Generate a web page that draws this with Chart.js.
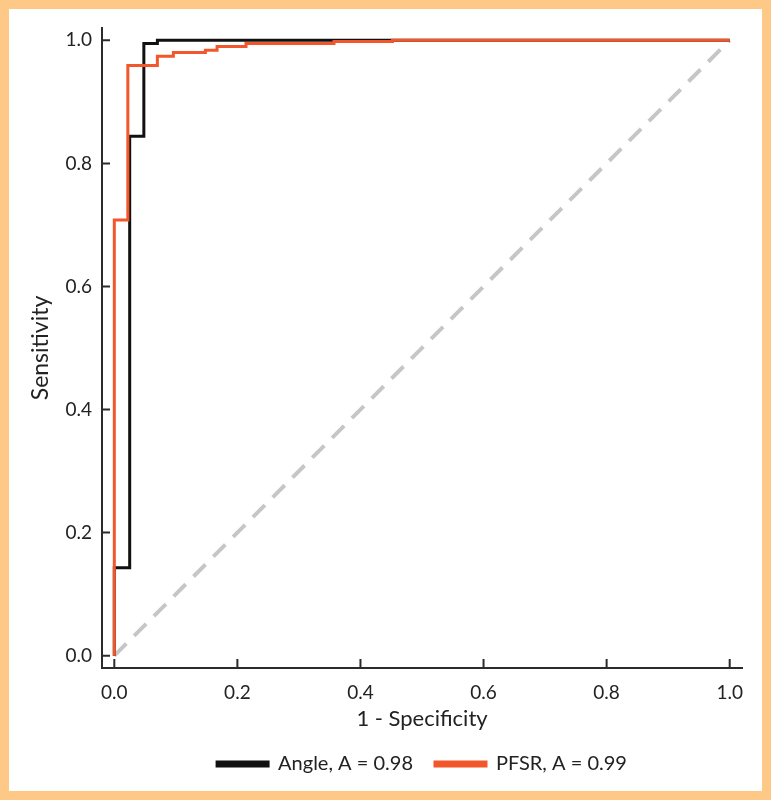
<!DOCTYPE html>
<html>
<head>
<meta charset="utf-8">
<script src="https://cdn.jsdelivr.net/npm/chart.js@4/dist/chart.umd.min.js"></script>
<style>
body{margin:0;background:#fec987;}
#wrap{position:absolute;left:9px;top:9px;width:753px;height:782px;background:#fff;}
</style>
</head>
<body>
<div id="wrap"><canvas id="chart"></canvas></div>
<script>
// ROC corner points (stepped: up first, then across)
const angleFpr=[0,0.025,0.048,0.070,1.0];
const angleTpr=[0,0.143,0.844,0.995,1.0];
const pfsrFpr=[0,0.022,0.070,0.096,0.148,0.167,0.214,0.357,0.452,1.0];
const pfsrTpr=[0,0.708,0.959,0.974,0.980,0.984,0.990,0.995,0.998,1.0];
const chanceLine=[0,1];
const tickVals=[0,0.2,0.4,0.6,0.8,1.0];

const pts=(xs,ys)=>xs.map((x,i)=>({x:x,y:ys[i]}));

const axisCol='#2b2b2b';
const fam='Lato, "Open Sans", sans-serif';
const tickFont={family:fam,size:19};

// short inward tick marks like the original, legend centred under the plot
const innerTicks={
id:'innerTicks',
beforeDraw(c){
const lg=c.legend;
if(lg){lg.left=c.chartArea.left;lg.right=c.chartArea.right;}
},
afterDraw(c){
const g=c.ctx,xs=c.scales.x,ys=c.scales.y;
g.save();
g.strokeStyle=axisCol;
g.lineWidth=2;
g.beginPath();
tickVals.forEach(v=>{
const px=xs.getPixelForValue(v);
g.moveTo(px,xs.top);g.lineTo(px,xs.top-9);
const py=ys.getPixelForValue(v);
g.moveTo(ys.right,py);g.lineTo(ys.right+8,py);
});
g.stroke();
g.restore();
}
};

const ctx=document.getElementById('chart');
new Chart(ctx,{
type:'line',
data:{datasets:[
{label:'Angle, A = 0.98',data:pts(angleFpr,angleTpr),borderColor:'#111',backgroundColor:'#111',borderWidth:3,stepped:'after',pointRadius:0,order:2},
{label:'PFSR, A = 0.99',data:pts(pfsrFpr,pfsrTpr),borderColor:'#f2572b',backgroundColor:'#f2572b',borderWidth:3,stepped:'after',pointRadius:0,order:1},
{label:'chance',data:pts(chanceLine,chanceLine),borderColor:'#c6c6c6',borderWidth:4,borderDash:[17,11],pointRadius:0,order:3}
]},
options:{
responsive:true,
maintainAspectRatio:false,
animation:false,
layout:{padding:{top:19,right:20,left:0,bottom:7}},
plugins:{
tooltip:{enabled:false},
legend:{
position:'bottom',
labels:{
filter:it=>it.text!=='chance',
sort:(a,b)=>a.datasetIndex-b.datasetIndex,
boxWidth:51,boxHeight:4,padding:22,
color:'#222',font:{family:fam,size:20}
}
}
},
scales:{
x:{
type:'linear',min:-0.02,max:1.02,
grid:{display:true,drawOnChartArea:false,drawTicks:false},
border:{display:true,color:axisCol,width:2},
ticks:{includeBounds:false,padding:13,color:'#222',font:tickFont,callback:v=>v.toFixed(1),maxRotation:0},
afterBuildTicks:s=>{s.ticks=tickVals.map(v=>({value:v}));},
title:{display:true,text:'1 - Specificity',color:'#222',font:{family:fam,size:22},padding:{top:4,bottom:0}},
afterFit:s=>{s.height=64;}
},
y:{
type:'linear',min:-0.02,max:1.02,
grid:{display:true,drawOnChartArea:false,drawTicks:false},
border:{display:true,color:axisCol,width:2},
ticks:{includeBounds:false,padding:10,color:'#222',font:tickFont,callback:v=>v.toFixed(1)},
afterBuildTicks:s=>{s.ticks=tickVals.map(v=>({value:v}));},
title:{display:true,text:'Sensitivity',color:'#222',font:{family:fam,size:23},padding:{top:18,bottom:0}},
afterFit:s=>{s.width=93;s.paddingTop=0;s.paddingBottom=0;}
}
}
},
plugins:[innerTicks]
});
</script>
</body>
</html>
